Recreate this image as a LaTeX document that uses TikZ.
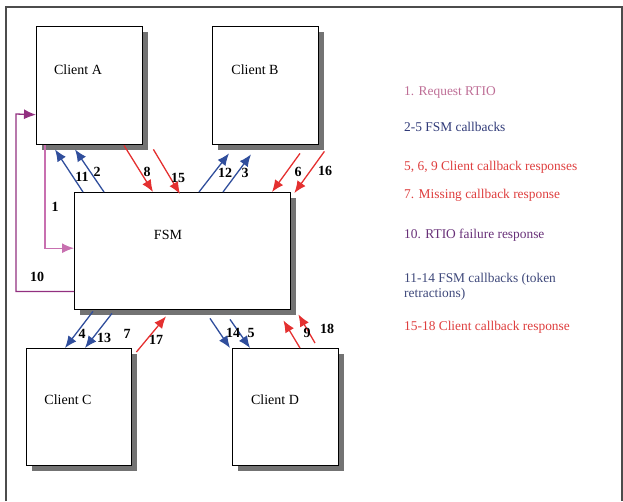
\documentclass[tikz,border=0pt]{standalone}
\usepackage{fontspec}
\setmainfont{Liberation Serif}
\usetikzlibrary{arrows.meta,shadows}
\definecolor{cpink}{RGB}{200,112,176}
\definecolor{cpurple}{RGB}{146,48,128}
\definecolor{cblue}{RGB}{48,78,156}
\definecolor{cred}{RGB}{228,48,48}
\definecolor{tpink}{RGB}{190,110,150}
\definecolor{tblue}{RGB}{48,58,120}
\definecolor{tred}{RGB}{222,62,62}
\definecolor{tpurple}{RGB}{104,48,120}
\definecolor{tblue2}{RGB}{62,72,122}
\begin{document}
\begin{tikzpicture}[x=1pt,y=-1pt,
  box/.style={draw=black,line width=1.4pt,fill=white,anchor=north west,inner sep=0pt,
    drop shadow={shadow xshift=5pt,shadow yshift=-5pt,fill=black!55,opacity=1}},
  boxtext/.style={font=\fontsize{14}{16}\selectfont},
  num/.style={font=\fontsize{14}{16}\selectfont\bfseries,inner sep=0pt},
  legend/.style={font=\fontsize{13.4}{15.5}\selectfont,anchor=west,align=left,inner sep=0pt},
  arr/.style={line width=1.3pt,-{Latex[length=12pt,width=10pt]}},
  barr/.style={arr,cblue},
  rarr/.style={arr,cred}]
\useasboundingbox (0,0) rectangle (623,501);
\draw[black!70,line width=1.2pt] (6,501) -- (6,7) -- (622,7) -- (622,501);
% boxes
\node[box,minimum width=106pt,minimum height=118pt] (A) at (36,26) {};
\node[box,minimum width=106pt,minimum height=118pt] (B) at (212,26) {};
\node[box,minimum width=216pt,minimum height=117pt] (F) at (74,192) {};
\node[box,minimum width=105pt,minimum height=117pt] (C) at (26,348) {};
\node[box,minimum width=106pt,minimum height=117pt] (D) at (232,348) {};
\node[boxtext] (tA) at (78,70) {Client A};
\node[boxtext] (tB) at (255,70) {Client B};
\node[boxtext] (tF) at (168,235) {FSM};
\node[boxtext] (tC) at (68,400) {Client C};
\node[boxtext] (tD) at (275,400) {Client D};
% arrow 1 and 10
\draw[line width=1.3pt,cpink,-{Latex[length=12pt,width=10pt]}] ([xshift=9pt]A.south west) |- ([yshift=3pt]F.west);
\coordinate (k10) at (16,114);
\draw[line width=1.3pt,cpurple,-{Latex[length=12pt,width=10pt]}] ([yshift=19pt]F.south west) -| (k10) -- ([yshift=-29pt]A.west);
% top arrows
\draw[barr] ([xshift=9pt]F.north west) -- ([xshift=19pt,yshift=-4pt]A.south west);
\draw[barr] ([xshift=30pt]F.north west) -- ([xshift=39pt,yshift=-4pt]A.south west);
\draw[rarr] ([xshift=88pt]A.south west) -- ([xshift=79pt]F.north west);
\coordinate (s15) at ([xshift=10pt,yshift=-4pt]A.south east);
\draw[rarr] (s15) -- ([xshift=106pt,yshift=-2pt]F.north west);
\draw[barr] ([xshift=125pt]F.north west) -- ([xshift=17pt,yshift=-8pt]B.south west);
\draw[barr] ([xshift=149pt]F.north west) -- ([xshift=39pt,yshift=-9pt]B.south west);
\coordinate (s6) at ([xshift=88pt,yshift=-8pt]B.south west);
\draw[rarr] (s6) -- ([xshift=198pt]F.north west);
\coordinate (s16) at ([xshift=5pt,yshift=-6pt]B.south east);
\draw[rarr] (s16) -- ([xshift=3pt,yshift=-1pt]F.north east);
% bottom arrows
\draw[barr] ([xshift=19pt,yshift=-1pt]F.south west) -- ([xshift=39pt]C.north west);
\draw[barr] ([xshift=38pt,yshift=-3pt]F.south west) -- ([xshift=59pt]C.north west);
\draw[rarr] ([xshift=4pt,yshift=-4pt]C.north east) -- ([xshift=92pt,yshift=-6pt]F.south west);
\coordinate (s14) at ([xshift=136pt,yshift=-8pt]F.south west);
\draw[barr] (s14) -- ([xshift=-2pt]D.north west);
\coordinate (s5) at ([xshift=156pt,yshift=-9pt]F.south west);
\draw[barr] (s5) -- ([xshift=18pt]D.north west);
\draw[rarr] ([xshift=68pt]D.north west) -- ([xshift=-8pt,yshift=-10pt]F.south east);
\coordinate (s18) at ([xshift=83pt,yshift=5pt]D.north west);
\draw[rarr] (s18) -- ([xshift=7pt,yshift=-4pt]F.south east);
% number labels
\node[num] (n1) at (55,207) {1};
\node[num] (n10) at (37,277) {10};
\node[num] (n11) at (82,177) {11};
\node[num] (n2) at (97,172) {2};
\node[num] (n8) at (147,172) {8};
\node[num] (n15) at (178,178) {15};
\node[num] (n12) at (225,173) {12};
\node[num] (n3) at (245,173) {3};
\node[num] (n6) at (298,172) {6};
\node[num] (n16) at (325,171) {16};
\node[num] (n4) at (82,334) {4};
\node[num] (n13) at (104,338) {13};
\node[num] (n7) at (127,334) {7};
\node[num] (n17) at (156,340) {17};
\node[num] (n14) at (233,333) {14};
\node[num] (n5) at (251,333) {5};
\node[num] (n9) at (307,333) {9};
\node[num] (n18) at (327,329) {18};
% legend
\node[legend,text=tpink] (l1) at (404,92) {1. Request RTIO};
\node[legend,text=tblue] (l2) at (404,127) {2-5 FSM callbacks};
\node[legend,text=tred] (l3) at (404,167) {5, 6, 9 Client callback responses};
\node[legend,text=tred] (l4) at (404,195) {7. Missing callback response};
\node[legend,text=tpurple] (l5) at (404,235) {10. RTIO failure response};
\node[legend,text=tblue2] (l6) at (404,287) {11-14 FSM callbacks (token\\retractions)};
\node[legend,text=tred] (l7) at (404,327) {15-18 Client callback response};
\end{tikzpicture}
\end{document}
